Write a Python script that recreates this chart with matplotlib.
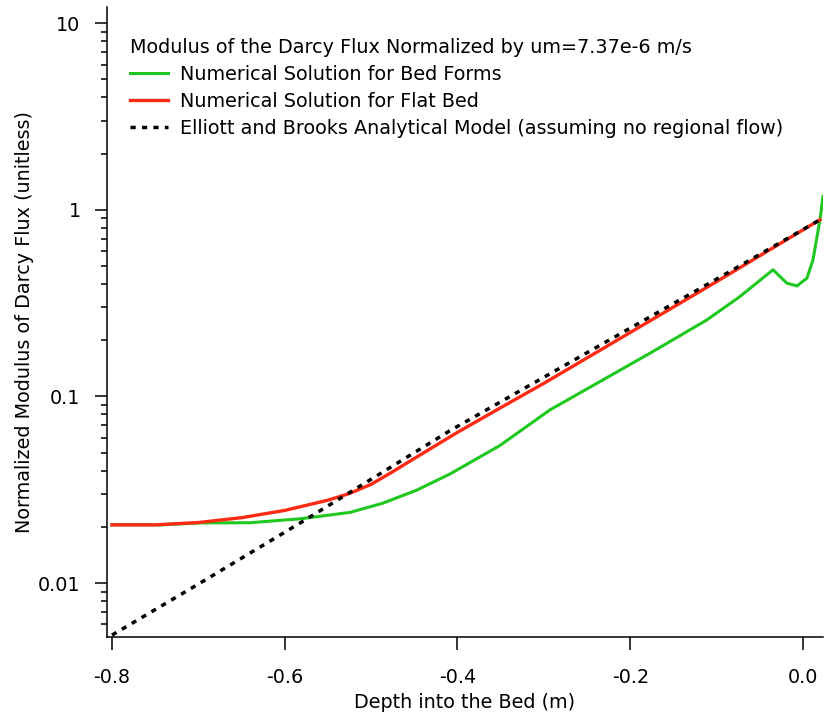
import matplotlib
matplotlib.use('Agg')
import matplotlib.pyplot as plt
from matplotlib.ticker import LogLocator, NullFormatter, FixedLocator

# depth (m) and normalized Darcy flux modulus
depth_bed = [-0.8, -0.744, -0.698, -0.64, -0.582, -0.5245, -0.4863, -0.4469,
             -0.4087, -0.3508, -0.2929, -0.2, -0.1771, -0.1112, -0.0729,
             -0.0347, -0.0185, -0.0069, 0.0046, 0.0116, 0.0197, 0.0232]
flux_bed = [0.0205, 0.0205, 0.0210, 0.02105, 0.0221, 0.0239, 0.0268, 0.0315,
            0.0384, 0.0546, 0.0847, 0.1484, 0.1704, 0.257, 0.343,
            0.477, 0.404, 0.391, 0.430, 0.539, 0.884, 1.18]

depth_flat = [-0.8, -0.75, -0.7, -0.65, -0.6, -0.55, -0.525, -0.5, -0.475,
              -0.45, -0.4, -0.35, -0.3, -0.2, -0.1, 0.0, 0.0197]
flux_flat = [0.0205, 0.0205, 0.0211, 0.0224, 0.0245, 0.0278, 0.0302, 0.0338,
             0.0395, 0.0465, 0.0642, 0.087, 0.1175, 0.220, 0.412, 0.780, 0.884]

depth_eb = [-0.8, -0.698, -0.582, -0.409, -0.177, -0.0845, 0.0197]
flux_eb = [0.00526, 0.0100, 0.0210, 0.0654, 0.267, 0.467, 0.884]

fs = 13.8
plt.rcParams['font.family'] = 'DejaVu Sans'
plt.rcParams['font.size'] = fs

fig = plt.figure(figsize=(8.24, 7.15), dpi=100)
ax = fig.add_axes([107/824, 1 - 637/715, 716/824, 630/715])

ax.plot(depth_bed, flux_bed, color='#1ec81e', lw=2.2,
        label='Numerical Solution for Bed Forms')
ax.plot(depth_flat, flux_flat, color='#ff2a14', lw=2.4,
        label='Numerical Solution for Flat Bed')
ax.plot(depth_eb, flux_eb, color='black', lw=2.5, ls=(0, (1.5, 1.8)),
        label='Elliott and Brooks Analytical Model (assuming no regional flow)')

ax.set_yscale('log')
ax.set_xlim(-0.8058, 0.0232)
ax.set_ylim(0.00514, 12.2)
ax.xaxis.set_major_locator(FixedLocator([-0.8, -0.6, -0.4, -0.2, 0.0]))
ax.set_xticklabels(['-0.8', '-0.6', '-0.4', '-0.2', '0.0'])
ax.yaxis.set_major_locator(FixedLocator([0.01, 0.1, 1, 10]))
ax.set_yticklabels(['0.01', '0.1', '1', '10'])
ax.yaxis.set_minor_locator(LogLocator(base=10, subs=range(2, 10)))
ax.yaxis.set_minor_formatter(NullFormatter())

for s in ['top', 'right']:
    ax.spines[s].set_visible(False)
for s in ['left', 'bottom']:
    ax.spines[s].set_linewidth(1.1)
ax.tick_params(which='major', length=9, width=1.1, labelsize=fs)
ax.tick_params(axis='x', which='major', pad=13)
ax.tick_params(axis='y', which='major', pad=10)
ax.tick_params(which='minor', length=4.5, width=1.1)

ax.set_xlabel('Depth into the Bed (m)', fontsize=fs, labelpad=5)
ax.set_ylabel('Normalized Modulus of Darcy Flux (unitless)', fontsize=fs, labelpad=3)

leg = ax.legend(loc='upper left', bbox_to_anchor=(130/824, 1 - 38/715),
                bbox_transform=fig.transFigure, frameon=False,
                title='Modulus of the Darcy Flux Normalized by um=7.37e-6 m/s',
                title_fontsize=fs, fontsize=fs, handlelength=2.0,
                handletextpad=0.62, labelspacing=0.42, borderpad=0,
                borderaxespad=0, alignment='left')

fig.savefig('out.png', dpi=100)
